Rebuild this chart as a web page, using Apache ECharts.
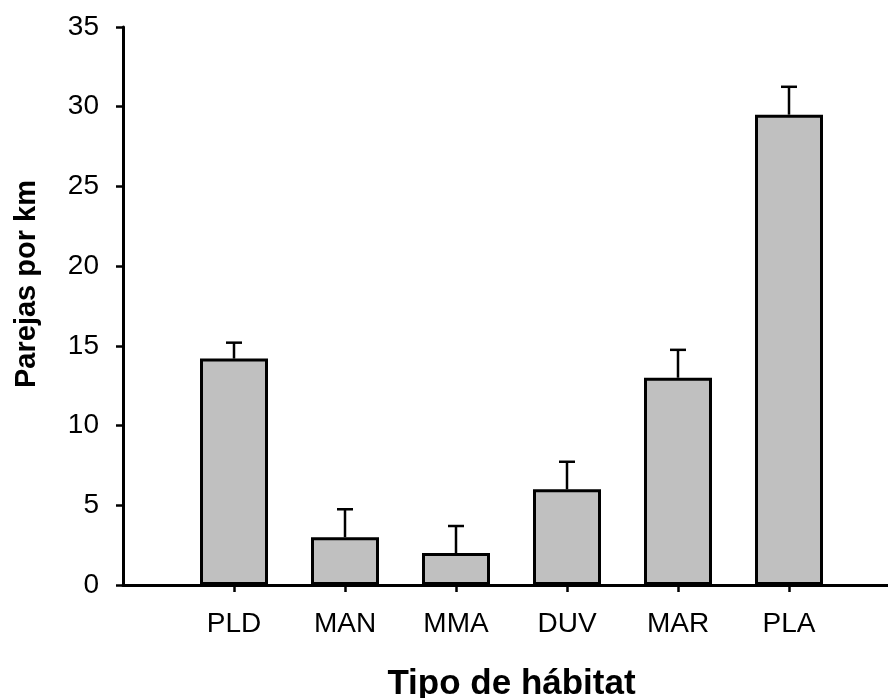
<!DOCTYPE html>
<html>
<head>
<meta charset="utf-8">
<script src="https://cdn.jsdelivr.net/npm/echarts@6/dist/echarts.min.js"></script>
<style>html,body{margin:0;padding:0;background:#fff}#c{width:888px;height:698px}</style>
</head>
<body>
<div id="c"></div>
<script>
const categories = ['', 'PLD', 'MAN', 'MMA', 'DUV', 'MAR', 'PLA', ''];
const means = [null, 14.2, 3.0, 2.0, 6.0, 13.0, 29.5, null];
const errors = [null, 1.0, 1.75, 1.7, 1.73, 1.75, 1.75, null];
const yTicks = [0, 5, 10, 15, 20, 25, 30, 35];
const xTitle = 'Tipo de hábitat';
const yTitle = 'Parejas por km';

const FONT = '"Liberation Sans", Arial, sans-serif';
const chart = echarts.init(document.getElementById('c'), null, {renderer: 'canvas'});

const errData = categories.map((c, i) => means[i] == null ? null : [i, means[i], means[i] + errors[i]]).filter(d => d);

chart.setOption({
  animation: false,
  backgroundColor: '#fff',
  grid: {left: 123, top: 27, width: 777, height: 558, outerBoundsMode: 'none', containLabel: false},
  xAxis: {
    type: 'category',
    data: categories,
    boundaryGap: false,
    axisLine: {lineStyle: {color: '#000', width: 3}},
    axisTick: {show: true, length: 7, lineStyle: {color: '#000', width: 2.5},
      interval: (i, v) => v !== ''},
    axisLabel: {color: '#000', fontSize: 28, fontFamily: FONT, margin: 25, interval: 0},
    name: xTitle,
    nameLocation: 'middle',
    nameGap: 82,
    nameTextStyle: {color: '#000', fontSize: 35, fontWeight: 'bold', fontFamily: FONT},
    splitLine: {show: false}
  },
  yAxis: {
    type: 'value',
    min: yTicks[0],
    max: yTicks[yTicks.length - 1],
    interval: 5,
    axisLine: {show: true, lineStyle: {color: '#000', width: 3}},
    axisTick: {show: true, length: 7, lineStyle: {color: '#000', width: 2.5}},
    axisLabel: {color: '#000', fontSize: 28, fontFamily: FONT, margin: 24},
    splitLine: {show: false}
  },
  graphic: [{
    type: 'text',
    x: 27, y: 284,
    rotation: Math.PI / 2,
    style: {text: yTitle, fill: '#000', font: 'bold 29px ' + FONT, textAlign: 'center', textVerticalAlign: 'middle'}
  }],
  series: [{
    type: 'bar',
    data: means,
    barWidth: 68,
    itemStyle: {color: '#c0c0c0', borderColor: '#000', borderWidth: 3},
    z: 2
  }, {
    type: 'custom',
    data: errData,
    z: 3,
    renderItem: function (params, api) {
      const x = api.value(0);
      const base = api.coord([x, api.value(1)]);
      const top = api.coord([x, api.value(2)]);
      const half = 8;
      const st = {stroke: '#000', lineWidth: 2.5};
      return {
        type: 'group',
        children: [
          {type: 'line', shape: {x1: base[0], y1: base[1], x2: top[0], y2: top[1]}, style: st},
          {type: 'line', shape: {x1: top[0] - half, y1: top[1], x2: top[0] + half, y2: top[1]}, style: st}
        ]
      };
    }
  }]
});
</script>
</body>
</html>
